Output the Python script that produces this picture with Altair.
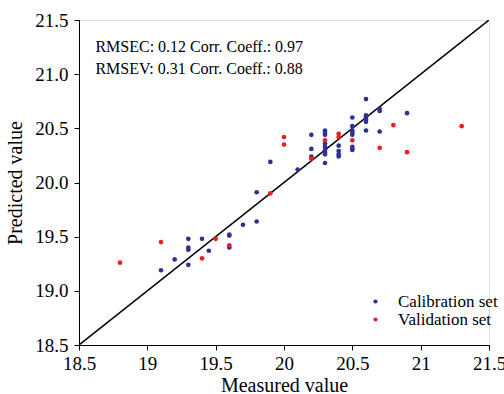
import altair as alt
import pandas as pd

cal_x = [20.60, 20.70, 20.70, 20.90, 20.50, 20.60, 20.60, 20.60, 20.60, 20.60, 20.70,
         20.50, 20.50, 20.50, 20.50, 20.50, 20.50, 20.50,
         20.40, 20.40, 20.40, 20.40,
         20.30, 20.30, 20.30, 20.30, 20.30, 20.30, 20.30, 20.30, 20.30,
         20.20, 20.20, 20.20, 19.90, 20.10, 19.80,
         19.80, 19.70, 19.60, 19.60, 19.60, 19.45, 19.40, 19.30, 19.30, 19.30, 19.30,
         19.20, 19.10]
cal_y = [20.77, 20.68, 20.66, 20.64, 20.60, 20.62, 20.60, 20.58, 20.56, 20.48, 20.47,
         20.52, 20.48, 20.46, 20.44, 20.33, 20.31, 20.30,
         20.34, 20.29, 20.26, 20.24,
         20.48, 20.46, 20.44, 20.36, 20.33, 20.30, 20.28, 20.26, 20.18,
         20.44, 20.31, 20.24, 20.19, 20.12, 19.91,
         19.64, 19.61, 19.52, 19.51, 19.40, 19.37, 19.48, 19.48, 19.40, 19.38, 19.24,
         19.29, 19.19]

val_x = [21.30, 20.80, 20.90, 20.70, 20.50, 20.40, 20.40, 20.30, 20.20, 20.00, 20.00,
         19.90, 19.60, 19.50, 19.40, 19.10, 18.80]
val_y = [20.52, 20.53, 20.28, 20.32, 20.39, 20.45, 20.42, 20.39, 20.22, 20.42, 20.35,
         19.90, 19.42, 19.48, 19.30, 19.45, 19.26]

line_x = [18.5, 21.5]
line_y = [18.5, 21.5]

notes = ["RMSEC: 0.12 Corr. Coeff.: 0.97", "RMSEV: 0.31 Corr. Coeff.: 0.88"]
note_x = [18.62, 18.62]
note_y = [21.25, 21.05]

series = ["Calibration set", "Validation set"]
colors = ["#2E3192", "#ED1C24"]

pts = pd.DataFrame({
    "x": cal_x + val_x,
    "y": cal_y + val_y,
    "set": [series[0]] * len(cal_x) + [series[1]] * len(val_x),
})
line_df = pd.DataFrame({"x": line_x, "y": line_y})
note_df = pd.DataFrame({"x": note_x, "y": note_y, "t": notes})

FONT = "Liberation Serif"
xs = alt.Scale(domain=[18.5, 21.5], nice=False, zero=False)
ys = alt.Scale(domain=[18.5, 21.5], nice=False, zero=False)
ticks = [18.5, 19, 19.5, 20, 20.5, 21, 21.5]

xax = alt.Axis(values=ticks, labelExpr="toString(datum.value)", title="Measured value",
               grid=False, domainColor="black", tickColor="black", tickSize=5,
               labelFont=FONT, labelFontSize=19, labelColor="black", labelPadding=4,
               titleFont=FONT, titleFontSize=20, titleFontWeight="normal", titleColor="black",
               titlePadding=2, labelOverlap=False, labelFlush=False)
yax = alt.Axis(values=ticks, format=".1f", title="Predicted value",
               grid=False, domainColor="black", tickColor="black", tickSize=5,
               labelFont=FONT, labelFontSize=19, labelColor="black", labelPadding=6,
               titleFont=FONT, titleFontSize=20, titleFontWeight="normal", titleColor="black",
               titlePadding=9, labelOverlap=False, labelFlush=False)

line = alt.Chart(line_df).mark_line(color="black", strokeWidth=1.5, clip=True).encode(
    x=alt.X("x:Q", scale=xs, axis=xax),
    y=alt.Y("y:Q", scale=ys, axis=yax),
)

points = alt.Chart(pts).mark_circle(size=22, opacity=1).encode(
    x=alt.X("x:Q", scale=xs),
    y=alt.Y("y:Q", scale=ys),
    color=alt.Color("set:N", scale=alt.Scale(domain=series, range=colors),
                    legend=alt.Legend(title=None, orient="none", legendX=288, legendY=273,
                                      labelFont=FONT, labelFontSize=17, labelColor="black",
                                      symbolSize=18, symbolType="circle", rowPadding=0,
                                      labelOffset=14)),
)

text = alt.Chart(note_df).mark_text(align="left", baseline="middle", font=FONT,
                                    fontSize=16, color="black").encode(
    x=alt.X("x:Q", scale=xs),
    y=alt.Y("y:Q", scale=ys),
    text="t:N",
)

chart = alt.layer(line, points, text).properties(
    width=410, height=325,
    autosize=alt.AutoSizeParams(type="none"),
    padding={"left": 79, "top": 20, "right": 15, "bottom": 49},
).configure_view(stroke=None).configure(background="white")

chart.save("out.html", embed_options={"renderer": "svg", "actions": False})
